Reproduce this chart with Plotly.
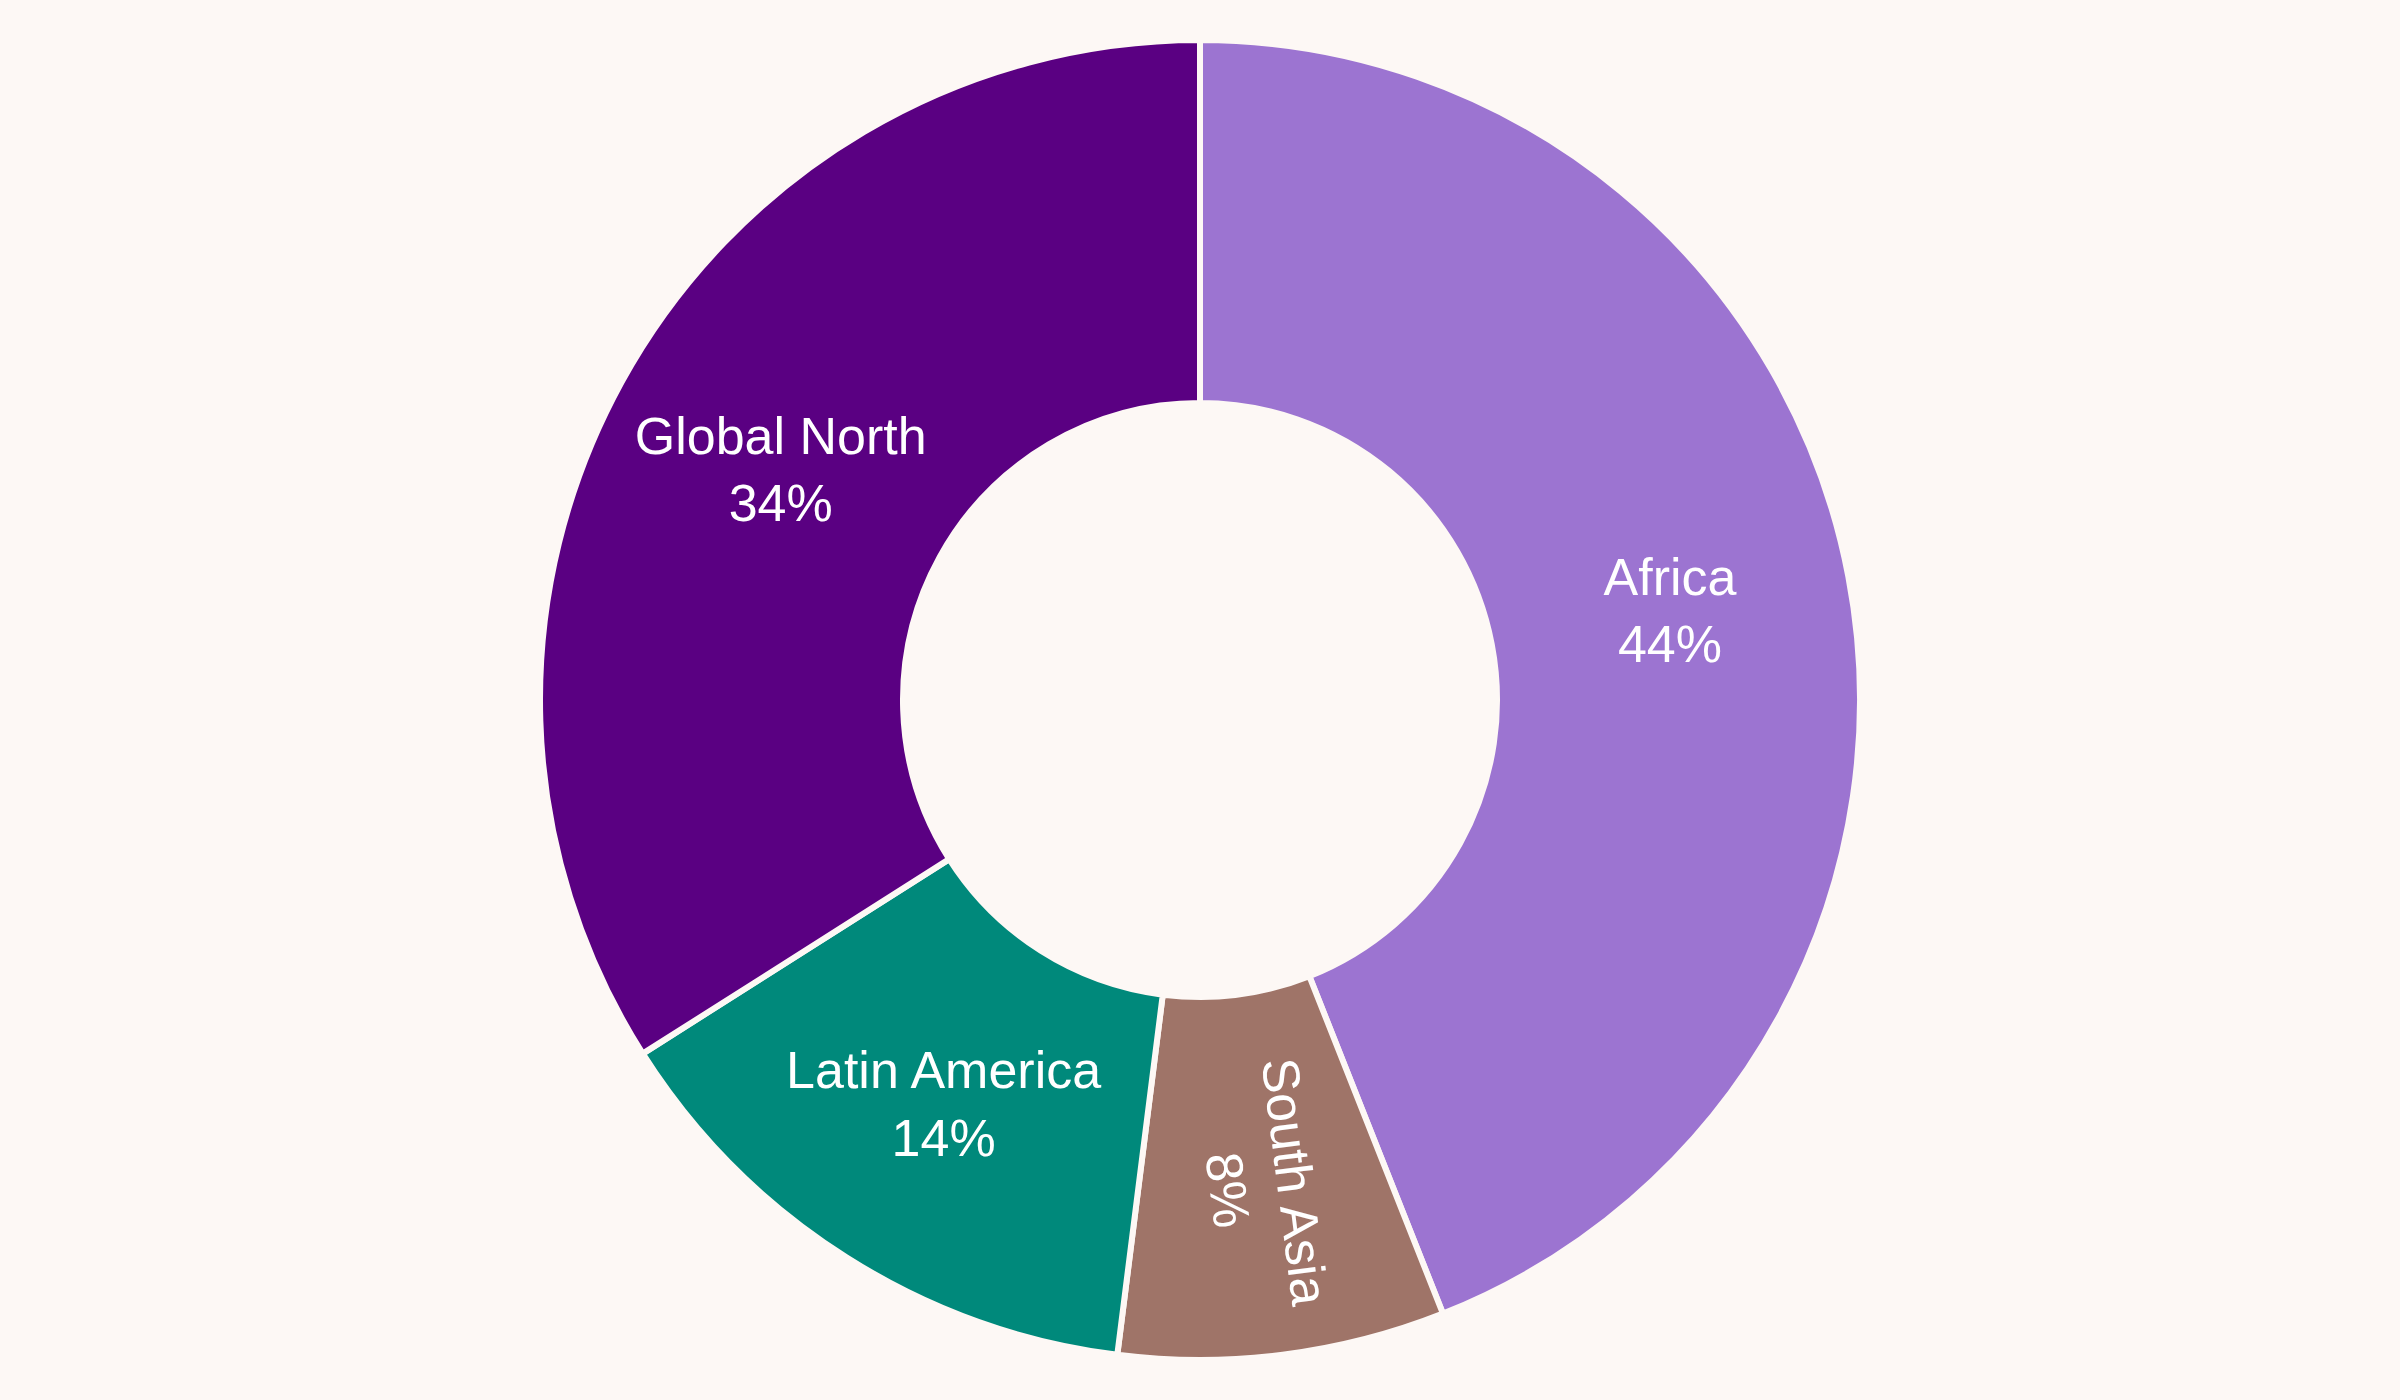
#!/usr/bin/env python3
"""Donut chart of share by region."""

import plotly.graph_objects as go

# Data
REGIONS = ["Africa", "South Asia", "Latin America", "Global North"]
SHARES = [44, 8, 14, 34]

# Colors
COLORS = {
    "Africa": "#9c74d1",
    "South Asia": "#9f7468",
    "Latin America": "#00897b",
    "Global North": "#5a0082",
}
BG = "#fdf8f5"

fig = go.Figure()

fig.add_trace(go.Pie(
    labels=REGIONS,
    values=SHARES,
    hole=0.45,
    sort=False,
    direction="clockwise",
    rotation=0,
    marker=dict(colors=[COLORS[r] for r in REGIONS], line=dict(color=BG, width=6)),
    textinfo="label+percent",
    textposition="inside",
    insidetextorientation="auto",
    textfont=dict(family="Liberation Sans, Arial, sans-serif", size=52, color="white"),
    showlegend=False,
))

fig.update_layout(
    width=2400,
    height=1400,
    margin=dict(l=0, r=0, t=40, b=40),
    paper_bgcolor=BG,
    plot_bgcolor=BG,
)

# drop the default page margin so the figure fills the window
fig.write_html(
    "out.html",
    config={"displayModeBar": False},
    post_script="document.body.style.margin='0';",
)
